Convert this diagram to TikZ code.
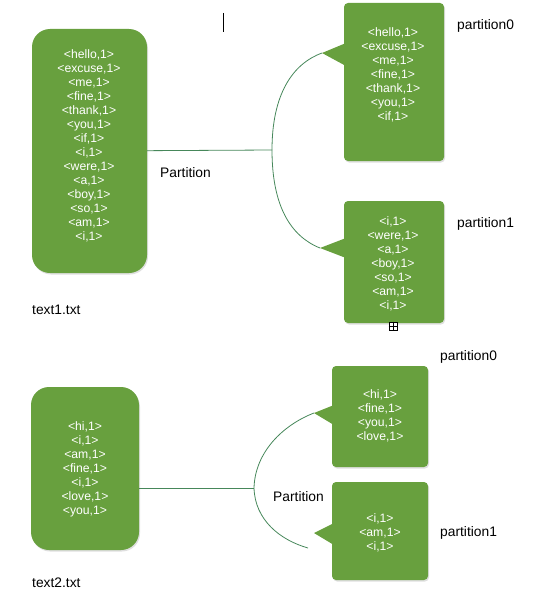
\documentclass[tikz,border=0pt]{standalone}
\usepackage{fontspec}
\setmainfont{Liberation Sans}
\usetikzlibrary{positioning,shadows}
\definecolor{boxgreen}{RGB}{104,160,62}
\definecolor{linkgreen}{RGB}{70,135,90}
\tikzset{
    block/.style={fill=boxgreen, rounded corners=18pt,
        drop shadow={opacity=.25, shadow xshift=1pt, shadow yshift=-1.5pt}},
    part/.style={fill=boxgreen, rounded corners=4pt,
        drop shadow={opacity=.25, shadow xshift=1pt, shadow yshift=-1.5pt}},
    words/.style={text=white, align=center, inner sep=0pt,
        font=\fontsize{12.2}{14}\selectfont},
    tag/.style={font=\fontsize{13.8}{16}\selectfont, inner sep=0pt},
    link/.style={draw=linkgreen, line width=.8pt}
}
\begin{document}
\begin{tikzpicture}[x=1pt, y=-1pt]
    \useasboundingbox (0,0) rectangle (541,602);

    % text1 and its two partitions
    \node[block, minimum width=115, minimum height=244] (t1) at (89.5,151) {};
    \node[part, minimum width=100, minimum height=158] (a0) at (394,82) {};
    \node[part, minimum width=100, minimum height=122] (a1) at (394,262) {};
    \coordinate (a0tip) at (322,53);
    \coordinate (a1tip) at (320,248);
    \fill[boxgreen] (346,43) -- (a0tip) -- (346,66) -- cycle;
    \fill[boxgreen] (346,238) -- (a1tip) -- (346,258) -- cycle;

    \node[words] (t1w) at (89,146) {<hello,1>\\<excuse,1>\\<me,1>\\<fine,1>\\<thank,1>\\<you,1>\\<if,1>\\<i,1>\\<were,1>\\<a,1>\\<boy,1>\\<so,1>\\<am,1>\\<i,1>};
    \node[words] (a0w) at (393,75) {<hello,1>\\<excuse,1>\\<me,1>\\<fine,1>\\<thank,1>\\<you,1>\\<if,1>};
    \node[words] (a1w) at (393,264) {<i,1>\\<were,1>\\<a,1>\\<boy,1>\\<so,1>\\<am,1>\\<i,1>};

    \coordinate (j1) at (272,150);
    \draw[link] (t1) -- (j1);
    \draw[link] (j1) .. controls (272,95) and (292,64) .. (a0tip);
    \draw[link] (j1) .. controls (272,205) and (290,236) .. (a1tip);

    \node[tag, anchor=west] (cut1) at (160,173) {Partition};
    \node[tag, anchor=west] (a0lbl) at (457,26) {partition0};
    \node[tag, anchor=west] (a1lbl) at (457,224) {partition1};
    \node[tag, anchor=west] (t1lbl) at (32,310) {text1.txt};

    \node[draw, fill=white, line width=.6pt, minimum size=8, inner sep=0pt] (expand) at (393,326) {};
    \draw[line width=.6pt] (expand.north) -- (expand.south) (expand.west) -- (expand.east);
    \draw[line width=.8pt] (223,13) -- (223,32);

    % text2 and its two partitions
    \node[block, minimum width=108, minimum height=163] (t2) at (85,468.5) {};
    \node[part, minimum width=96, minimum height=101] (b0) at (380,416.5) {};
    \node[part, minimum width=96, minimum height=98] (b1) at (380,531) {};
    \coordinate (b0tip) at (314,413);
    \coordinate (b1tip) at (314,533);
    \fill[boxgreen] (334,405) -- (b0tip) -- (334,425) -- cycle;
    \fill[boxgreen] (334,523) -- (b1tip) -- (334,545) -- cycle;

    \node[words] (t2w) at (85,469) {<hi,1>\\<i,1>\\<am,1>\\<fine,1>\\<i,1>\\<love,1>\\<you,1>};
    \node[words] (b0w) at (380,416) {<hi,1>\\<fine,1>\\<you,1>\\<love,1>};
    \node[words] (b1w) at (380,533) {<i,1>\\<am,1>\\<i,1>};

    \coordinate (j2) at (254,488);
    \coordinate (b1end) at (308,548);
    \draw[link] (t2.east |- j2) -- (j2);
    \draw[link] (j2) .. controls (255,452) and (283,425) .. (b0tip);
    \draw[link] (j2) .. controls (255,520) and (280,540) .. (b1end);

    \node[tag, anchor=west] (cut2) at (273,497) {Partition};
    \node[tag, anchor=west] (b0lbl) at (440,357) {partition0};
    \node[tag, anchor=west] (b1lbl) at (440,533) {partition1};
    \node[tag, anchor=west] (t2lbl) at (32,583) {text2.txt};
\end{tikzpicture}
\end{document}
